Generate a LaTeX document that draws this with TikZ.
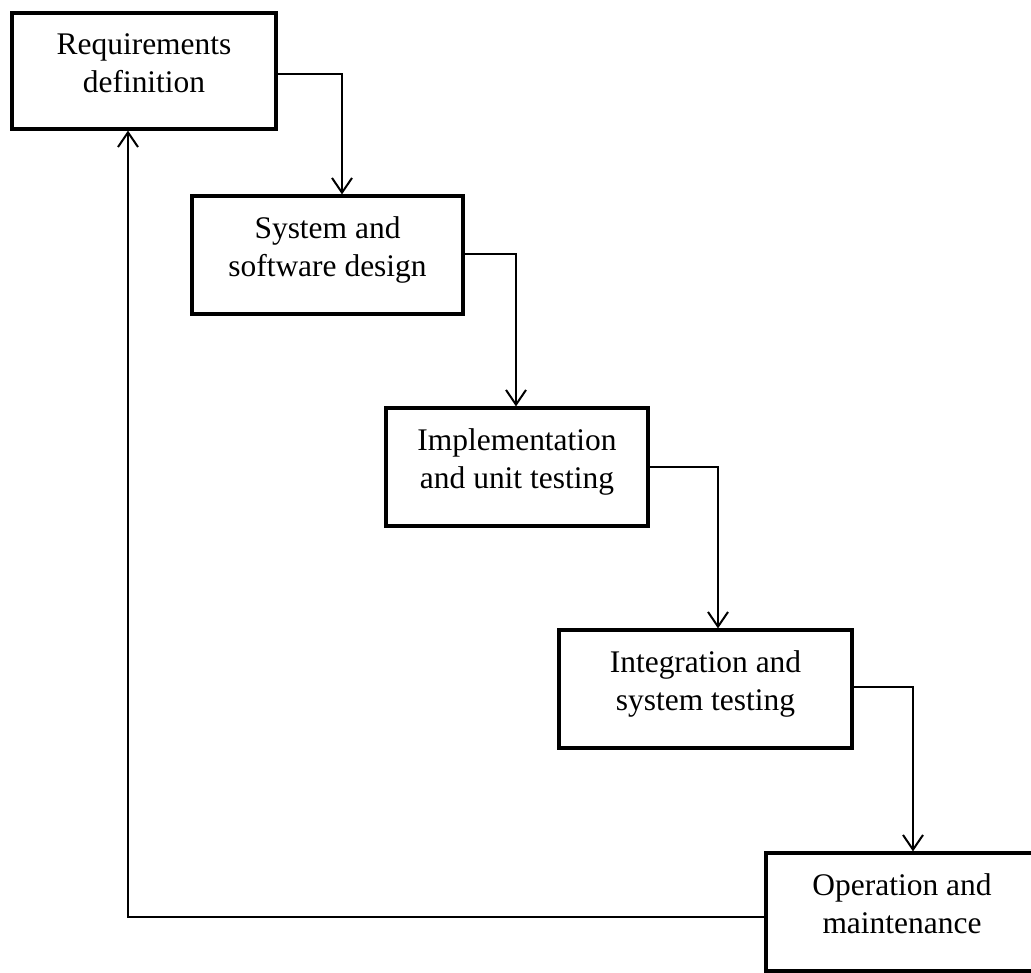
\documentclass[tikz,border=0pt]{standalone}
\usepackage{fontspec}
\setmainfont{Liberation Serif}
\usetikzlibrary{arrows.meta}
\begin{document}
\begin{tikzpicture}[x=0.75pt,y=-0.75pt,
  phase/.style={draw=black, line width=2.4pt, rectangle, inner sep=0pt, minimum height=118*0.75pt},
  caption/.style={anchor=north, align=center, inner sep=0pt,
    font=\fontsize{23.6}{29}\selectfont, execute at begin node=\strut},
  flow/.style={line width=1.5pt, -{Straight Barb[length=11pt,width=15pt,line width=1.5pt]}}
]
\useasboundingbox (0,0) rectangle (1031,973);

% phases of the process
\node[phase, minimum width=264*0.75pt, minimum height=116*0.75pt] (b1) at (144,71) {};
\node[caption] (t1) at (144,33) {Requirements\\definition};

\node[phase, minimum width=271*0.75pt] (b2) at (327.5,255) {};
\node[caption] (t2) at (327.5,216) {System and\\software design};

\node[phase, minimum width=262*0.75pt] (b3) at (517,467) {};
\node[caption] (t3) at (517,428) {Implementation\\and unit testing};

\node[phase, minimum width=293*0.75pt] (b4) at (705.5,689) {};
\node[caption] (t4) at (705.5,650) {Integration and\\system testing};

\node[phase, minimum width=272*0.75pt] (b5) at (902,912) {};
\node[caption] (t5) at (902,873) {Operation and\\maintenance};

% elbows of the connectors
\coordinate (k1) at (342,74);
\coordinate (k2) at (516,254);
\coordinate (k3) at (718,467);
\coordinate (k4) at (913,687);
\coordinate (k5) at (128,917);

\draw[flow] (b1.east |- k1) -- (k1) -- (k1 |- b2.north);
\draw[flow] (b2.east |- k2) -- (k2) -- (k2 |- b3.north);
\draw[flow] (b3.east |- k3) -- (k3) -- (k3 |- b4.north);
\draw[flow] (b4.east |- k4) -- (k4) -- (k4 |- b5.north);
\draw[flow] (b5.west |- k5) -- (k5) -- (k5 |- b1.south);
\end{tikzpicture}
\end{document}
